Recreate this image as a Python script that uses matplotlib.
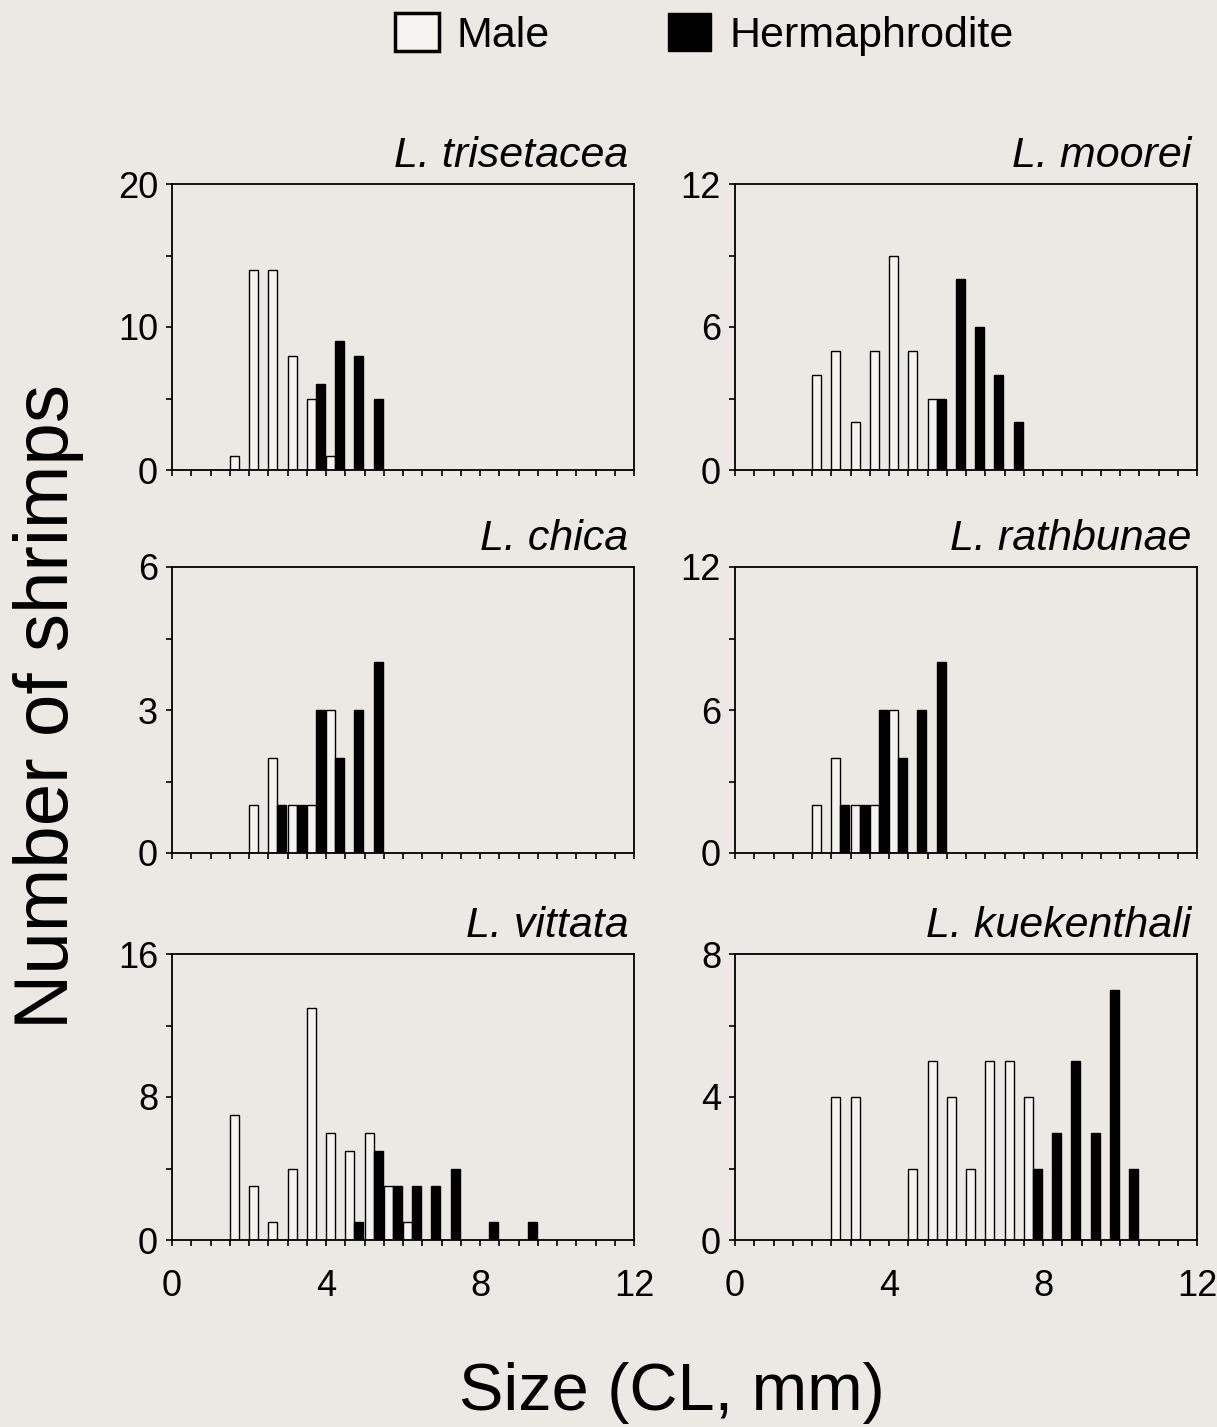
import matplotlib
matplotlib.use("Agg")
import matplotlib.pyplot as plt
from matplotlib.patches import Patch
from matplotlib.ticker import MultipleLocator

FONT_TICKS = 26
FONT_TITLE = 31
FONT_LEGEND = 31
FONT_LABEL_X = 48
FONT_LABEL_Y = 55
BG = '#ECE9E5'
BAR_W = 0.23

# size classes (lower edge, mm CL) and counts
TRI_M_SIZE = [1.5, 2.0, 2.5, 3.0, 3.5, 4.0]
TRI_M_N = [1, 14, 14, 8, 5, 1]
TRI_H_SIZE = [3.5, 4.0, 4.5, 5.0]
TRI_H_N = [6, 9, 8, 5]

MOO_M_SIZE = [2.0, 2.5, 3.0, 3.5, 4.0, 4.5, 5.0]
MOO_M_N = [4, 5, 2, 5, 9, 5, 3]
MOO_H_SIZE = [5.0, 5.5, 6.0, 6.5, 7.0]
MOO_H_N = [3, 8, 6, 4, 2]

CHI_M_SIZE = [2.0, 2.5, 3.0, 3.5, 4.0]
CHI_M_N = [1, 2, 1, 1, 3]
CHI_H_SIZE = [2.5, 3.0, 3.5, 4.0, 4.5, 5.0]
CHI_H_N = [1, 1, 3, 2, 3, 4]

RAT_M_SIZE = [2.0, 2.5, 3.0, 3.5, 4.0]
RAT_M_N = [2, 4, 2, 2, 6]
RAT_H_SIZE = [2.5, 3.0, 3.5, 4.0, 4.5, 5.0]
RAT_H_N = [2, 2, 6, 4, 6, 8]

VIT_M_SIZE = [1.5, 2.0, 2.5, 3.0, 3.5, 4.0, 4.5, 5.0, 5.5, 6.0]
VIT_M_N = [7, 3, 1, 4, 13, 6, 5, 6, 3, 1]
VIT_H_SIZE = [4.5, 5.0, 5.5, 6.0, 6.5, 7.0, 8.0, 9.0]
VIT_H_N = [1, 5, 3, 3, 3, 4, 1, 1]

KUE_M_SIZE = [2.5, 3.0, 4.5, 5.0, 5.5, 6.0, 6.5, 7.0, 7.5]
KUE_M_N = [4, 4, 2, 5, 4, 2, 5, 5, 4]
KUE_H_SIZE = [7.5, 8.0, 8.5, 9.0, 9.5, 10.0]
KUE_H_N = [2, 3, 5, 3, 7, 2]

SPECIES = ['L. trisetacea', 'L. moorei', 'L. chica',
           'L. rathbunae', 'L. vittata', 'L. kuekenthali']
Y_MAX = [20, 12, 6, 12, 16, 8]


def draw_panel(ax, title, ymax, m_size, m_n, h_size, h_n, show_x):
    ax.bar([s + 0.005 for s in m_size], m_n, width=BAR_W, align='edge',
           facecolor='#F5F3EF', edgecolor='black', linewidth=1.0)
    ax.bar([s + 0.24 for s in h_size], h_n, width=BAR_W, align='edge',
           facecolor='black', edgecolor='black', linewidth=1.0)
    ax.set_xlim(0, 12)
    ax.set_ylim(0, ymax)
    ax.xaxis.set_major_locator(MultipleLocator(4))
    ax.xaxis.set_minor_locator(MultipleLocator(0.5))
    ax.yaxis.set_major_locator(MultipleLocator(ymax / 2))
    ax.yaxis.set_minor_locator(MultipleLocator(ymax / 4))
    ax.set_yticklabels([f'{int(v)}' for v in ax.get_yticks()])
    ax.tick_params(which='both', direction='out', length=4, width=1.2)
    ax.tick_params(axis='y', labelsize=FONT_TICKS, pad=6)
    ax.tick_params(axis='x', labelsize=FONT_TICKS, pad=17)
    if not show_x:
        ax.tick_params(axis='x', labelbottom=False)
    for sp in ax.spines.values():
        sp.set_linewidth(1.3)
    ax.set_facecolor('none')
    ax.set_title(title, loc='right', fontsize=FONT_TITLE, style='italic',
                 pad=12, x=0.988)


def plot_size_frequency():
    plt.rcParams['font.family'] = ['Liberation Sans', 'DejaVu Sans']

    W, H = 1217, 1427
    fig = plt.figure(figsize=(W / 100, H / 100), dpi=100, facecolor=BG)

    lefts = [172 / W, 735 / W]
    bottoms = [1 - 470 / H, 1 - 853 / H, 1 - 1240 / H]
    aw, ah = 462 / W, 286 / H

    data = [
        (TRI_M_SIZE, TRI_M_N, TRI_H_SIZE, TRI_H_N),
        (MOO_M_SIZE, MOO_M_N, MOO_H_SIZE, MOO_H_N),
        (CHI_M_SIZE, CHI_M_N, CHI_H_SIZE, CHI_H_N),
        (RAT_M_SIZE, RAT_M_N, RAT_H_SIZE, RAT_H_N),
        (VIT_M_SIZE, VIT_M_N, VIT_H_SIZE, VIT_H_N),
        (KUE_M_SIZE, KUE_M_N, KUE_H_SIZE, KUE_H_N),
    ]

    for i, (name, ymax, d) in enumerate(zip(SPECIES, Y_MAX, data)):
        row, col = divmod(i, 2)
        ax = fig.add_axes([lefts[col], bottoms[row], aw, ah])
        draw_panel(ax, name, ymax, *d, show_x=(row == 2))

    handles = [Patch(facecolor='#F5F3EF', edgecolor='black', linewidth=2.5, label='Male'),
               Patch(facecolor='black', edgecolor='black', label='Hermaphrodite')]
    fig.legend(handles=handles, loc='center', bbox_to_anchor=(0.579, 0.976),
               ncol=2, frameon=False, fontsize=FONT_LEGEND,
               handlelength=1.0, handleheight=1.0, handletextpad=0.42,
               columnspacing=2.75)

    fig.text(0.011, 0.505, 'Number of shrimps', rotation=90,
             ha='left', va='center', fontsize=FONT_LABEL_Y)
    fig.text(0.552, 1 - 1410 / H, 'Size (CL, mm)',
             ha='center', va='baseline', fontsize=FONT_LABEL_X)

    fig.savefig('out.png', dpi=100, facecolor=BG)


plot_size_frequency()
